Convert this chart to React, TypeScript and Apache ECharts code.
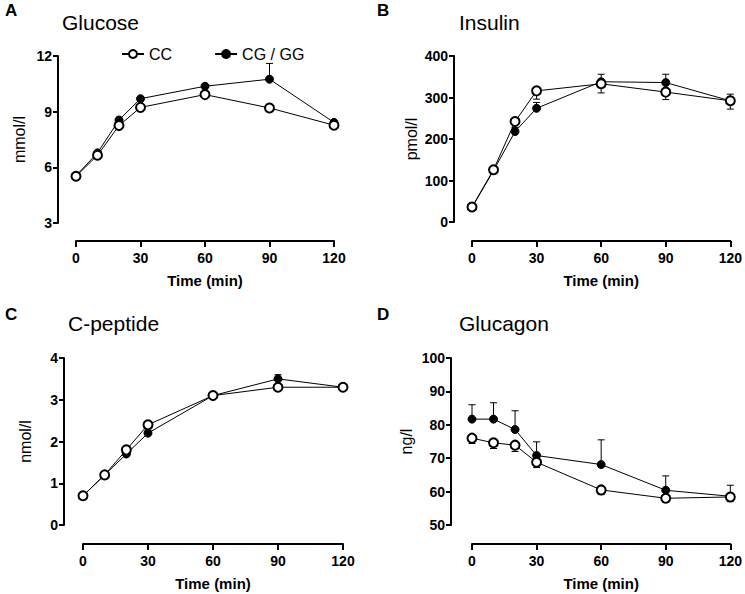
import React, { useEffect, useRef } from "react";
import * as echarts from "echarts";

const times = [0, 10, 20, 30, 60, 90, 120];

const glucoseCC = [5.52, 6.65, 8.25, 9.23, 9.92, 9.2, 8.27];
const glucoseCCLow = [5.45, 6.58, 8.17, 9.15, 9.83, 9.12, 8.2];
const glucoseCG = [5.55, 6.78, 8.55, 9.7, 10.37, 10.75, 8.42];
const glucoseCGHigh = [5.62, 6.86, 8.65, 9.8, 10.47, 11.6, 8.5];

const insulinCC = [36, 126, 242, 316, 333, 313, 292];
const insulinCCLow = [33, 120, 235, 296, 311, 295, 272];
const insulinCG = [35, 124, 218, 274, 338, 336, 292];
const insulinCGHigh = [38, 130, 228, 288, 356, 356, 308];

const cpepCC = [0.7, 1.2, 1.8, 2.4, 3.1, 3.3, 3.3];
const cpepCCLow = [0.66, 1.15, 1.74, 2.33, 3.03, 3.22, 3.23];
const cpepCG = [0.7, 1.2, 1.7, 2.2, 3.1, 3.5, 3.3];
const cpepCGHigh = [0.74, 1.25, 1.76, 2.27, 3.17, 3.6, 3.36];

const glucagonCC = [76.0, 74.6, 73.9, 68.8, 60.5, 58.0, 58.4];
const glucagonCCLow = [74.4, 72.9, 72.0, 67.2, 59.1, 56.8, 57.0];
const glucagonCG = [81.7, 81.7, 78.6, 70.8, 68.1, 60.4, 58.6];
const glucagonCGHigh = [86.0, 86.6, 84.2, 74.9, 75.5, 64.7, 61.9];

const panels = [
  { letter: "A", title: "Glucose", unit: "mmol/l", min: 3, max: 12, interval: 3, cc: glucoseCC, ccErr: glucoseCCLow, cg: glucoseCG, cgErr: glucoseCGHigh },
  { letter: "B", title: "Insulin", unit: "pmol/l", min: 0, max: 400, interval: 100, cc: insulinCC, ccErr: insulinCCLow, cg: insulinCG, cgErr: insulinCGHigh },
  { letter: "C", title: "C-peptide", unit: "nmol/l", min: 0, max: 4, interval: 1, cc: cpepCC, ccErr: cpepCCLow, cg: cpepCG, cgErr: cpepCGHigh },
  { letter: "D", title: "Glucagon", unit: "ng/l", min: 50, max: 100, interval: 10, cc: glucagonCC, ccErr: glucagonCCLow, cg: glucagonCG, cgErr: glucagonCGHigh },
];

// layout (pixels)
const grids = [
  { left: 76, top: 56, width: 258, height: 167, yOff: 18, xOff: 18, nameGap: 31, lx: 5, ly: 2, tx: 62, ty: 12 },
  { left: 472, top: 56, width: 261, height: 166, yOff: 18, xOff: 19, nameGap: 35, lx: 377, ly: 2, tx: 459, ty: 12 },
  { left: 83, top: 358, width: 260, height: 167, yOff: 19, xOff: 19, nameGap: 31, lx: 5, ly: 306, tx: 68, ty: 313 },
  { left: 472, top: 358, width: 261, height: 167, yOff: 21, xOff: 19, nameGap: 37, lx: 377, ly: 306, tx: 459, ty: 313 },
];

const FONT = "Liberation Sans, Arial, sans-serif";

function errRender(params: any, api: any) {
  const x = api.value(0);
  const y = api.value(1);
  const e = api.value(2);
  const p1 = api.coord([x, y]);
  const p2 = api.coord([x, e]);
  const style = { stroke: "#000", lineWidth: 1 };
  return {
    type: "group",
    children: [
      { type: "line", shape: { x1: p1[0], y1: p1[1], x2: p2[0], y2: p2[1] }, style },
      { type: "line", shape: { x1: p2[0] - 3.5, y1: p2[1], x2: p2[0] + 3.5, y2: p2[1] }, style },
    ],
  };
}

export default function App() {
  const ref = useRef<HTMLDivElement>(null);
  useEffect(() => {
    document.body.style.margin = "0";
    const chart = echarts.init(ref.current!, null, { renderer: "svg" });
    const gridOpt: any[] = [];
    const xAxes: any[] = [];
    const yAxes: any[] = [];
    const series: any[] = [];
    const graphics: any[] = [];
    panels.forEach((p, i) => {
      const g = grids[i];
      gridOpt.push({ left: g.left, top: g.top, width: g.width, height: g.height, containLabel: false });
      xAxes.push({
        type: "value", gridIndex: i, min: 0, max: 120, interval: 30, offset: g.xOff,
        name: "Time (min)", nameLocation: "middle", nameGap: 32,
        nameTextStyle: { fontFamily: FONT, fontWeight: "bold", fontSize: 15, color: "#000" },
        axisLine: { show: true, onZero: false, lineStyle: { color: "#000", width: 2 } },
        axisTick: { show: true, length: 6, lineStyle: { color: "#000", width: 2 } },
        axisLabel: { fontFamily: FONT, fontWeight: "bold", fontSize: 14, color: "#000", margin: 10 },
        splitLine: { show: false },
      });
      yAxes.push({
        type: "value", gridIndex: i, min: p.min, max: p.max, interval: p.interval, offset: g.yOff,
        name: p.unit, nameLocation: "middle", nameGap: g.nameGap, nameRotate: 90,
        nameTextStyle: { fontFamily: FONT, fontSize: 16, color: "#000" },
        axisLine: { show: true, onZero: false, lineStyle: { color: "#000", width: 2 } },
        axisTick: { show: true, length: 5, lineStyle: { color: "#000", width: 2 } },
        axisLabel: { fontFamily: FONT, fontWeight: "bold", fontSize: 14, color: "#000", margin: 6 },
        splitLine: { show: false },
      });
      series.push({
        type: "custom", xAxisIndex: i, yAxisIndex: i, renderItem: errRender, z: 1,
        data: times.map((t, k) => [t, p.cg[k], p.cgErr[k]]),
      });
      series.push({
        type: "custom", xAxisIndex: i, yAxisIndex: i, renderItem: errRender, z: 1,
        data: times.map((t, k) => [t, p.cc[k], p.ccErr[k]]),
      });
      series.push({
        name: "CG / GG", type: "line", xAxisIndex: i, yAxisIndex: i, z: 2,
        data: times.map((t, k) => [t, p.cg[k]]),
        symbol: "circle", symbolSize: 8,
        lineStyle: { color: "#000", width: 1 },
        itemStyle: { color: "#000", borderColor: "#000", borderWidth: 1 },
      });
      series.push({
        name: "CC", type: "line", xAxisIndex: i, yAxisIndex: i, z: 3,
        data: times.map((t, k) => [t, p.cc[k]]),
        symbol: "circle", symbolSize: 9,
        lineStyle: { color: "#000", width: 1 },
        itemStyle: { color: "#fff", borderColor: "#000", borderWidth: 2 },
      });
      graphics.push({
        type: "text", left: g.lx, top: g.ly,
        style: { text: p.letter, font: `bold 17px ${FONT}`, fill: "#000" },
      });
      graphics.push({
        type: "text", left: g.tx, top: g.ty,
        style: { text: p.title, font: `21px ${FONT}`, fill: "#000" },
      });
    });
    chart.setOption({
      animation: false,
      backgroundColor: "#fff",
      grid: gridOpt,
      xAxis: xAxes,
      yAxis: yAxes,
      series,
      graphic: graphics,
      legend: {
        data: ["CC", "CG / GG"],
        left: 116, top: 41,
        itemWidth: 22, itemHeight: 10, itemGap: 42,
        textStyle: { fontFamily: FONT, fontSize: 16, color: "#000" },
      },
    });
    return () => chart.dispose();
  }, []);
  return <div ref={ref} style={{ width: 745, height: 594 }} />;
}
